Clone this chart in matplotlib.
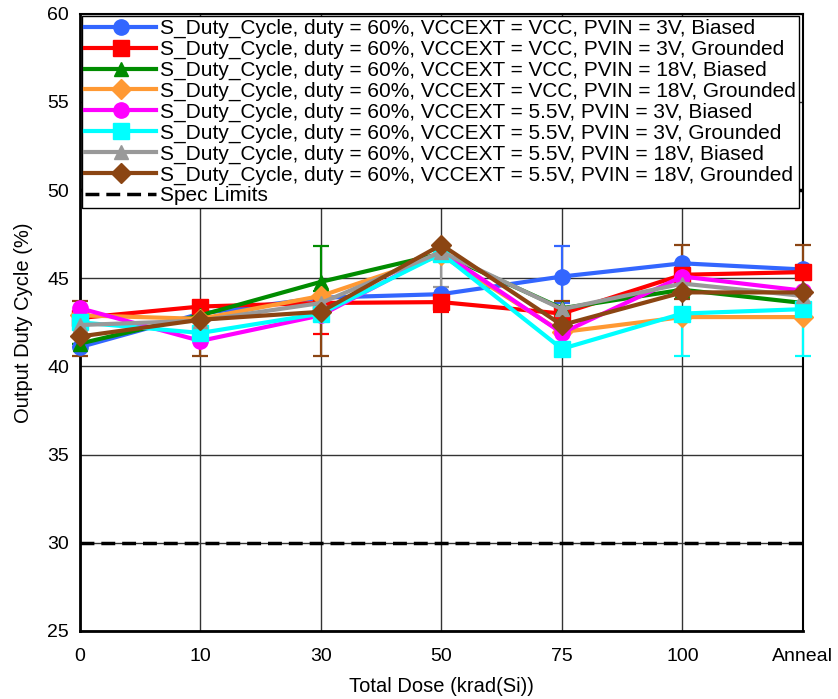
import numpy as np
import matplotlib.pyplot as plt

plt.rcParams['font.family'] = ['Liberation Sans', 'DejaVu Sans']

doses = ['0', '10', '30', '50', '75', '100', 'Anneal']

labels = [
    'S_Duty_Cycle, duty = 60%, VCCEXT = VCC, PVIN = 3V, Biased',
    'S_Duty_Cycle, duty = 60%, VCCEXT = VCC, PVIN = 3V, Grounded',
    'S_Duty_Cycle, duty = 60%, VCCEXT = VCC, PVIN = 18V, Biased',
    'S_Duty_Cycle, duty = 60%, VCCEXT = VCC, PVIN = 18V, Grounded',
    'S_Duty_Cycle, duty = 60%, VCCEXT = 5.5V, PVIN = 3V, Biased',
    'S_Duty_Cycle, duty = 60%, VCCEXT = 5.5V, PVIN = 3V, Grounded',
    'S_Duty_Cycle, duty = 60%, VCCEXT = 5.5V, PVIN = 18V, Biased',
    'S_Duty_Cycle, duty = 60%, VCCEXT = 5.5V, PVIN = 18V, Grounded',
]

vcc_3v_biased = [41.1, 43.0, 43.9, 44.1, 45.1, 45.85, 45.5]
vcc_3v_grounded = [42.75, 43.4, 43.6, 43.65, 43.0, 45.2, 45.35]
vcc_18v_biased = [41.3, 42.9, 44.8, 46.4, 43.3, 44.35, 43.6]
vcc_18v_grounded = [42.9, 42.7, 44.0, 46.3, 41.95, 42.8, 42.8]
v55_3v_biased = [43.3, 41.45, 42.9, 46.5, 41.9, 45.1, 44.3]
v55_3v_grounded = [42.5, 41.9, 43.0, 46.4, 41.0, 43.0, 43.25]
v55_18v_biased = [42.35, 42.6, 43.6, 46.5, 43.25, 44.7, 44.0]
v55_18v_grounded = [41.7, 42.65, 43.1, 46.9, 42.35, 44.2, 44.2]

# error bar bounds (low, high); equal to value = no bar
vcc_3v_biased_lo = [41.1, 43.0, 43.9, 44.1, 43.6, 45.85, 45.5]
vcc_3v_biased_hi = [41.1, 43.0, 43.9, 44.1, 46.85, 45.85, 45.5]
vcc_3v_grounded_lo = [42.75, 43.4, 41.85, 43.1, 43.0, 45.2, 45.35]
vcc_3v_grounded_hi = [42.75, 43.4, 43.6, 43.65, 43.0, 45.2, 45.35]
vcc_18v_biased_lo = [41.3, 42.9, 44.3, 46.4, 43.3, 44.35, 43.6]
vcc_18v_biased_hi = [41.3, 42.9, 46.85, 46.4, 43.3, 44.35, 43.6]
v55_3v_grounded_lo = [42.5, 41.9, 43.0, 46.4, 41.0, 40.6, 40.6]
v55_3v_grounded_hi = [42.5, 41.9, 43.0, 46.4, 41.0, 43.0, 43.25]
v55_18v_biased_lo = [42.35, 42.6, 43.6, 44.5, 43.25, 44.7, 44.0]
v55_18v_biased_hi = [42.35, 42.6, 43.6, 46.5, 43.25, 44.7, 44.0]
v55_18v_grounded_lo = [40.6, 40.6, 40.6, 46.9, 42.35, 43.8, 43.6]
v55_18v_grounded_hi = [43.7, 43.5, 44.0, 46.9, 43.7, 46.9, 46.9]

spec_limits = [30, 50]

series = [
    (vcc_3v_biased, vcc_3v_biased_lo, vcc_3v_biased_hi, '#3366ff', 'o'),
    (vcc_3v_grounded, vcc_3v_grounded_lo, vcc_3v_grounded_hi, '#ff0000', 's'),
    (vcc_18v_biased, vcc_18v_biased_lo, vcc_18v_biased_hi, '#008c00', '^'),
    (vcc_18v_grounded, None, None, '#ff9933', 'D'),
    (v55_3v_biased, None, None, '#ff00ff', 'o'),
    (v55_3v_grounded, v55_3v_grounded_lo, v55_3v_grounded_hi, '#00ffff', 's'),
    (v55_18v_biased, v55_18v_biased_lo, v55_18v_biased_hi, '#999999', '^'),
    (v55_18v_grounded, v55_18v_grounded_lo, v55_18v_grounded_hi, '#8b4513', 'D'),
]

fig = plt.figure(figsize=(8.38, 6.99), dpi=100)
ax = fig.add_axes([0.0955, 0.0973, 0.8625, 0.883])
x = np.arange(len(doses))

for (vals, lo, hi, col, mk), lab in zip(series, labels):
    vals = np.array(vals)
    if lo is not None:
        yerr = [vals - np.array(lo), np.array(hi) - vals]
        ax.errorbar(x, vals, yerr=yerr, fmt='none', ecolor=col, elinewidth=1.6,
                    capsize=6, capthick=1.6, clip_on=False, zorder=3)
    ms = 11 if mk in ('o', 's') else 10
    ax.plot(x, vals, color=col, marker=mk, markersize=ms, linewidth=3,
            label=lab, clip_on=False, zorder=4)

for i, s in enumerate(spec_limits):
    ax.plot(x, [s] * len(x), color='black', linestyle=(0, (4, 2)), linewidth=2.5,
            label='Spec Limits' if i == 0 else None, zorder=3)

ax.set_xlim(0, 6)
ax.set_ylim(25, 60)
ax.set_yticks(np.arange(25, 61, 5))
ax.set_xticks(x)
ax.set_xticklabels(doses)
ax.tick_params(length=0, labelsize=14, pad=12)
ax.tick_params(axis='y', pad=8)
ax.grid(True, color='#333333', linewidth=1)
ax.set_axisbelow(True)
for sp in ax.spines.values():
    sp.set_color('black')
    sp.set_linewidth(1.5)
ax.spines['left'].set_linewidth(2)
ax.spines['bottom'].set_linewidth(2)

ax.set_xlabel('Total Dose (krad(Si))', fontsize=14.5, labelpad=9)
ax.set_ylabel('Output Duty Cycle (%)', fontsize=14.5, labelpad=10)

leg = ax.legend(loc='upper left', bbox_to_anchor=(0.0, 1.0), fontsize=15,
                frameon=True, fancybox=False, framealpha=1, edgecolor='black',
                handlelength=3.4, handletextpad=0.2, labelspacing=0.08,
                borderpad=0.15, borderaxespad=0.1)
leg.get_frame().set_linewidth(1)
leg.set_zorder(10)

fig.savefig('out.png', dpi=100)
